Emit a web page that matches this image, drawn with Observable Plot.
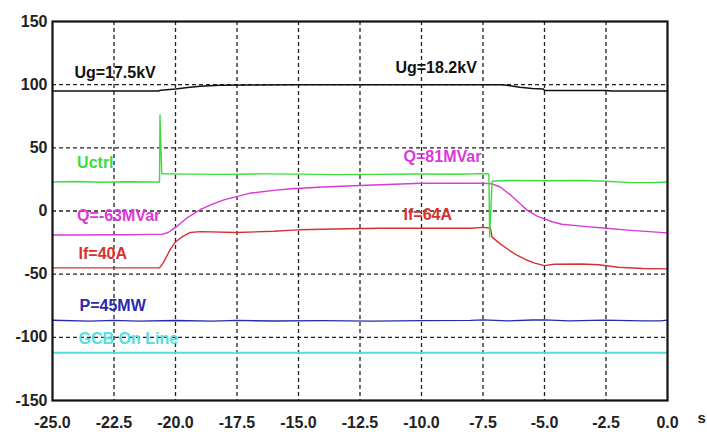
<!DOCTYPE html>
<html>
<head>
<meta charset="utf-8">
<script src="https://cdn.jsdelivr.net/npm/d3@7"></script>
<script src="https://cdn.jsdelivr.net/npm/@observablehq/plot@0.6"></script>
<style>
  html, body { margin: 0; padding: 0; background: #fff; }
  #chart svg { display: block; }
</style>
</head>
<body>
<div id="chart"></div>
<script>
// X ticks (time, s) and Y ticks
const xTicks = [-25, -22.5, -20, -17.5, -15, -12.5, -10, -7.5, -5, -2.5, 0];
const yTicks = [-150, -100, -50, 0, 50, 100, 150];

// Series: [time (s), value]
const ug = [[-25,95],[-22.5,95],[-20.7,95],[-20.6,95.6],[-20.0,96.5],[-19.5,97.8],[-19.0,98.8],[-18.2,99.5],[-17,99.8],[-15,100],[-10,100],[-6.7,100],[-6.4,99.2],[-6.0,98],[-5.5,97],[-5.05,96.5],[-5.0,95.4],[-2.5,95.3],[-2.3,95],[0,95]];
const uctrl = [[-25,23],[-24,23.4],[-23,22.8],[-22,23.2],[-21,22.9],[-20.65,23],[-20.63,76],[-20.56,29.5],[-19.5,29.2],[-18,29],[-16.5,29.4],[-15,29.2],[-13.5,28.8],[-12,29],[-10,29.3],[-8.5,29.1],[-7.6,29.6],[-7.26,29.3],[-7.23,-20.7],[-7.13,23.6],[-6.5,24.2],[-5,24],[-3.5,24.2],[-2.5,23.5],[-1.5,22.5],[-0.5,22.6],[0,23]];
const q = [[-25,-19],[-22,-18.8],[-21,-18.5],[-20.55,-18.5],[-20.3,-17],[-20.0,-13],[-19.5,-5],[-19.0,1],[-18.5,5.5],[-18,9],[-17,14],[-16,16.3],[-15.3,17.6],[-14,19],[-12.5,20.2],[-10,22],[-7.5,22],[-7.13,21.5],[-6.8,19],[-6.4,13],[-6.0,6],[-5.7,0.5],[-5.3,-4],[-5.0,-6.2],[-4.7,-8.5],[-4.3,-10.5],[-3.5,-12],[-2.5,-13.6],[-1.5,-15.3],[0,-17.3]];
const ifield = [[-25,-45],[-20.65,-45],[-20.5,-41],[-20.2,-30],[-20.0,-24.5],[-19.7,-20],[-19.4,-17],[-19.0,-16.3],[-17.5,-17],[-16,-16],[-15,-14.9],[-13,-14],[-11.7,-13.6],[-10,-13.6],[-8,-13.6],[-7.5,-13],[-7.2,-13.5],[-7.13,-20.7],[-6.8,-26],[-6.4,-31.5],[-6.1,-35.2],[-5.7,-39],[-5.4,-41.3],[-5.0,-43.2],[-4.6,-42.2],[-3.5,-42],[-2.8,-42.6],[-2,-44.5],[-1,-45.5],[0,-45.8]];
const p = [[-25,-86.5],[-23.5,-87.2],[-22.5,-86.6],[-21.5,-87.2],[-20,-86.7],[-18.5,-87.2],[-17.5,-86.6],[-16,-87.1],[-14,-86.8],[-12,-87.2],[-10,-86.8],[-8,-86.6],[-7.5,-86.2],[-6.5,-87],[-5.5,-86.3],[-5,-86.2],[-4,-87],[-2.6,-86.4],[-1,-87],[-0.3,-87],[0,-86.4]];
const gcb = [[-25,-112.3],[0,-112.3]];

// Annotation labels: [text, time, value]
const labels = [
  ["Ug=17.5kV", -24.11, 109.3],
  ["Ug=18.2kV", -11.06, 113.2],
  ["Uctrl", -24.0, 38],
  ["Q=81MVar", -10.73, 43.2],
  ["Q=-63MVar", -24.0, -3.6],
  ["If=64A", -10.73, -2.8],
  ["If=40A", -23.94, -34],
  ["P=45MW", -23.9, -74.8],
  ["GCB On Line", -23.94, -101]
];
const seriesColors = {
  "Ug": "#111111", "Uctrl": "#3ddc3d", "Q": "#d83ad8", "If": "#d83030", "P": "#2a2aae", "GCB": "#55dede"
};

const toRows = arr => arr.map(([t, v]) => ({t, v}));
const colorOf = s => s.startsWith("Ug") ? seriesColors.Ug : s.startsWith("Uctrl") ? seriesColors.Uctrl :
  s.startsWith("Q") ? seriesColors.Q : s.startsWith("If") ? seriesColors.If : s.startsWith("P") ? seriesColors.P : seriesColors.GCB;

const font = "'Liberation Sans', Arial, sans-serif";

const chart = Plot.plot({
  width: 707,
  height: 432,
  marginLeft: 52,
  marginRight: 40,
  marginTop: 21,
  marginBottom: 32,
  style: {fontFamily: font, fontSize: "16px", fontWeight: "bold", background: "#fff", color: "#222"},
  x: {domain: [-25, 0], ticks: xTicks, tickFormat: d => d.toFixed(1), tickSize: 0, tickPadding: 16, label: null},
  y: {domain: [-150, 150], ticks: yTicks, tickFormat: d => String(d), tickSize: 0, tickPadding: 5, label: null},
  marks: [
    Plot.ruleX(xTicks.slice(1, -1), {stroke: "#222", strokeWidth: 1.3, strokeDasharray: "4,3"}),
    Plot.ruleY(yTicks.slice(1, -1), {stroke: "#222", strokeWidth: 1.3, strokeDasharray: "4,3"}),
    Plot.line(toRows(gcb), {x: "t", y: "v", stroke: seriesColors.GCB, strokeWidth: 2}),
    Plot.line(toRows(p), {x: "t", y: "v", stroke: seriesColors.P, strokeWidth: 1.4}),
    Plot.line(toRows(ifield), {x: "t", y: "v", stroke: seriesColors.If, strokeWidth: 1.4}),
    Plot.line(toRows(q), {x: "t", y: "v", stroke: seriesColors.Q, strokeWidth: 1.4}),
    Plot.line(toRows(uctrl), {x: "t", y: "v", stroke: seriesColors.Uctrl, strokeWidth: 1.4}),
    Plot.line(toRows(ug), {x: "t", y: "v", stroke: seriesColors.Ug, strokeWidth: 1.5}),
    Plot.frame({stroke: "#111", strokeWidth: 2.2}),
    Plot.text(labels, {x: d => d[1], y: d => d[2], text: d => d[0], fill: d => colorOf(d[0]),
      textAnchor: "start", fontSize: 16, fontWeight: "bold", fontFamily: font}),
    Plot.text(["s"], {frameAnchor: "bottom-right", text: d => d, dx: 30, dy: 22, textAnchor: "start",
      fontSize: 15, fontWeight: "bold", fill: "#222", fontFamily: font})
  ]
});
document.getElementById("chart").appendChild(chart);
</script>
</body>
</html>
